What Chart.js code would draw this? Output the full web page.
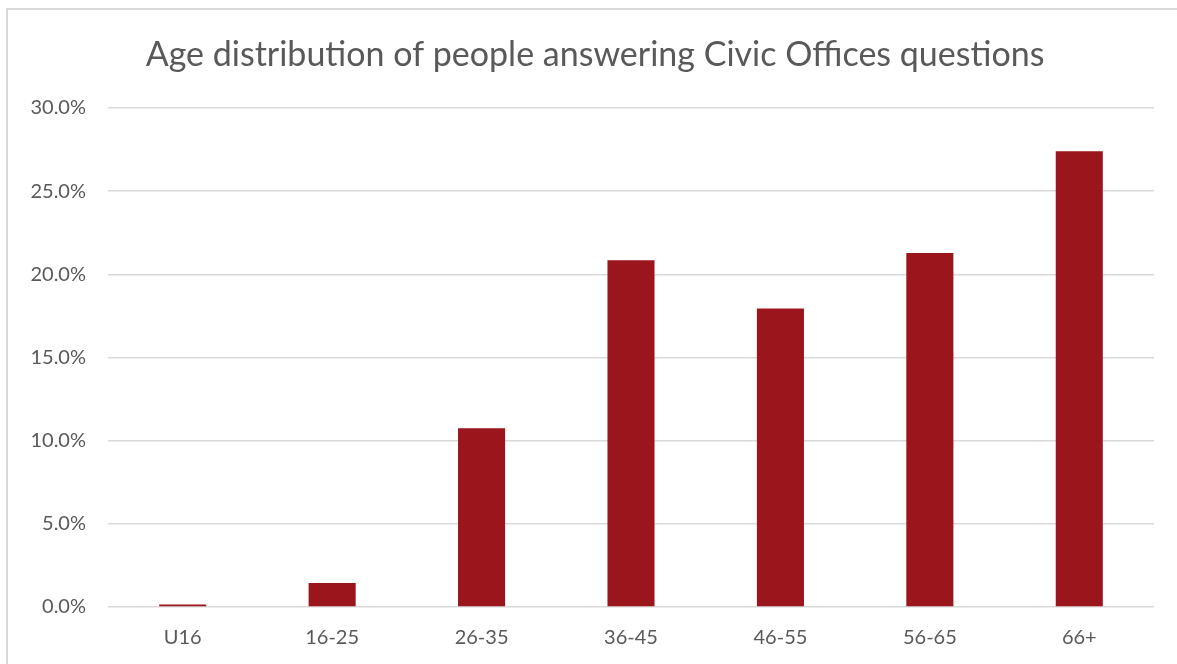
<!DOCTYPE html>
<html>
<head>
<meta charset="utf-8">
<script src="https://cdn.jsdelivr.net/npm/chart.js@4"></script>
<style>
  html, body { margin: 0; padding: 0; background: #ffffff; overflow: hidden; }
  #cadre {
    position: absolute; left: 6px; top: 8px;
    width: 1300px; height: 800px;
    border: 2px solid #d9d9d9; box-sizing: border-box;
  }
  #zone { position: absolute; left: 0; top: 0; width: 1177px; height: 664px; }
</style>
</head>
<body>
<div id="cadre"></div>
<div id="zone"><canvas id="graphiqueAges"></canvas></div>
<script>
// Données : part des répondants par tranche d'âge (%)
const tranchesAge = ["U16", "16-25", "26-35", "36-45", "46-55", "56-65", "66+"];
const partsRepondants = [0.15, 1.44, 10.75, 20.85, 17.94, 21.29, 27.40];
const titreGraphique = "Age distribution of people answering Civic Offices questions";

const couleurTexte = "#595959";
const couleurGrille = "#d9d9d9";
const couleurBarre = "#9b151d";

// Titre dessiné à la main, centré sur tout le cadre
const pluginTitre = {
  id: "titreCadre",
  afterDraw(chart) {
    const ctx = chart.ctx;
    ctx.save();
    ctx.font = "34px Lato";
    ctx.fillStyle = couleurTexte;
    ctx.textAlign = "center";
    ctx.textBaseline = "middle";
    ctx.fillText(titreGraphique, 595, 55);
    ctx.restore();
  }
};

new Chart(document.getElementById("graphiqueAges").getContext("2d"), {
  type: "bar",
  data: {
    labels: tranchesAge,
    datasets: [{
      data: partsRepondants,
      backgroundColor: couleurBarre,
      borderWidth: 0,
      barPercentage: 0.63,
      categoryPercentage: 0.5
    }]
  },
  plugins: [pluginTitre],
  options: {
    responsive: true,
    maintainAspectRatio: false,
    animation: false,
    layout: { padding: { top: 108, right: 23, bottom: 0, left: 0 } },
    plugins: {
      legend: { display: false },
      tooltip: { enabled: false },
      title: { display: false }
    },
    scales: {
      x: {
        grid: { display: false },
        border: { display: false },
        ticks: {
          color: couleurTexte,
          font: { family: "Lato", size: 20 },
          padding: 11
        },
        afterFit: (echelle) => { echelle.height = 57; }
      },
      y: {
        min: 0,
        max: 30,
        grid: { color: couleurGrille, lineWidth: 1.5, drawTicks: false },
        border: { display: false },
        ticks: {
          stepSize: 5,
          color: couleurTexte,
          font: { family: "Lato", size: 20 },
          padding: 22,
          callback: (v) => v.toFixed(1) + "%"
        },
        afterFit: (echelle) => { echelle.width = 108; }
      }
    }
  }
});
</script>
</body>
</html>
